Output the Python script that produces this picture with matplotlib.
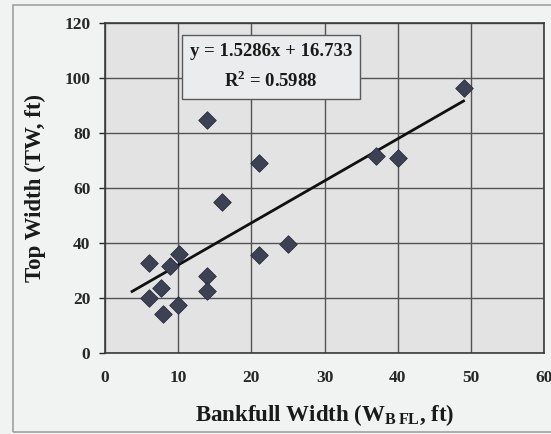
import numpy as np
import matplotlib.pyplot as plt
from matplotlib.patches import Rectangle

# Bankfull width vs top width (ft)
bankfull_width = [6.0, 6.0, 7.7, 7.9, 8.9, 10.1, 10.0, 13.9, 13.9, 13.9,
                  16.0, 21.0, 21.0, 25.0, 37.0, 40.1, 49.0]
top_width = [32.8, 19.9, 23.7, 14.2, 31.5, 36.0, 17.5, 84.8, 28.0, 22.7,
             54.8, 69.2, 35.7, 39.6, 71.6, 71.0, 96.3]

# linear trendline as reported on the chart
slope, intercept, r2 = 1.5286, 16.733, 0.5988
trend_x = [3.7, 49.0]

x_ticks = [0, 10, 20, 30, 40, 50, 60]
y_ticks = [0, 20, 40, 60, 80, 100, 120]

plt.rcParams['font.family'] = ['Liberation Serif', 'DejaVu Serif']
plt.rcParams['font.weight'] = 'bold'
plt.rcParams['mathtext.fontset'] = 'custom'
plt.rcParams['mathtext.rm'] = 'Liberation Serif:bold'
plt.rcParams['mathtext.bf'] = 'Liberation Serif:bold'

fig = plt.figure(figsize=(5.51, 4.34), dpi=100)
fig.patch.set_facecolor('#f1f2f2')
ax = fig.add_axes([0.1906, 0.1866, 0.7967, 0.7604])
ax.set_facecolor('#e3e3e3')

# scan frame lines
fig.add_artist(Rectangle((13 / 551, 2 / 434), 1.1, 427 / 434,
                         transform=fig.transFigure, fill=False,
                         edgecolor='#a0a0a0', linewidth=1.2))

ax.grid(True, color='#545454', linewidth=1.0)
ax.set_axisbelow(True)

tx = np.array(trend_x)
ax.plot(tx, slope * tx + intercept, color='#101010', linewidth=2.0, zorder=3)
ax.scatter(bankfull_width, top_width, marker='D', s=80, color='#3d4154',
           edgecolor='#2a2d3a', linewidth=0.6, zorder=4)

ax.set_xlim(0, 60)
ax.set_ylim(0, 120)
ax.set_xticks(x_ticks)
ax.set_yticks(y_ticks)
ax.tick_params(axis='both', labelsize=12.5, colors='#262626', length=4.5,
               width=1.0, pad=6)
ax.tick_params(axis='x', length=0, pad=12)
for lbl in ax.get_xticklabels() + ax.get_yticklabels():
    lbl.set_fontweight('bold')
    lbl.set_clip_on(False)

for side in ['left', 'bottom', 'top', 'right']:
    ax.spines[side].set_color('#3a3a3a')
    ax.spines[side].set_linewidth(1.2)

ax.set_xlabel(r'Bankfull Width (W$_{\mathrm{B\,FL}}$, ft)', fontsize=16.5,
              fontweight='bold', color='#1a1a1a')
ax.set_ylabel('Top Width (TW, ft)', fontsize=16.5, fontweight='bold',
              color='#1a1a1a')
ax.xaxis.set_label_coords(0.5, (353 - 415) / 330)
ax.xaxis.label.set_va('center')
ax.yaxis.set_label_coords((35 - 105) / 439, 0.5)
ax.yaxis.label.set_va('center')

eq = f'y = {slope}x + {intercept}\nR$^{{2}}$ = {r2}'
ax.text((271 - 105) / 439, (353 - 67) / 330, eq, transform=ax.transAxes,
        ha='center', va='center', fontsize=13.5, fontweight='bold',
        linespacing=1.6, color='#1a1a1a',
        bbox=dict(boxstyle='square,pad=0.42', facecolor='#eaeced',
                  edgecolor='#5a5a5a', linewidth=1.0), zorder=5)

fig.savefig('out.png', dpi=100, facecolor=fig.get_facecolor())
